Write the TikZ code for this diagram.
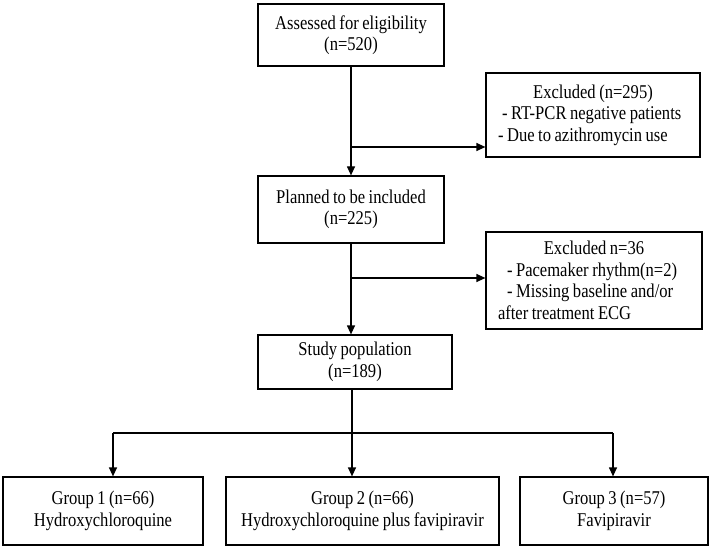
\documentclass[tikz,border=0pt]{standalone}
\usepackage{fontspec}
\setmainfont[FakeStretch=0.85,WordSpace=0.85]{Liberation Serif}
\usetikzlibrary{arrows.meta}

\begin{document}
\begin{tikzpicture}[x=1pt,y=-1pt]
\tikzstyle{block}=[rectangle,draw,line width=1.2pt,inner sep=0pt,align=center,font=\fontsize{19.5}{21.5}\selectfont\setlength{\parindent}{0pt}]
\tikzstyle{side}=[block,align=left,inner xsep=12pt,execute at begin node={\setlength{\spaceskip}{0pt}\setlength{\xspaceskip}{0pt}}]
\tikzstyle{wire}=[line width=1.2pt]
\tikzstyle{arr}=[wire,-{Triangle[length=9pt,width=8pt]}]
\useasboundingbox (0,0) rectangle (712,553);
% main column
\node[block,minimum width=186pt,minimum height=62pt] (assess) at (351,35) {Assessed for eligibility\\(n=520)};
\node[block,minimum width=186pt,minimum height=67pt] (plan) at (351,209.5) {Planned to be included\\(n=225)};
\node[block,minimum width=194pt,minimum height=54pt] (study) at (355,362) {Study population\\(n=189)};
% exclusions
\node[side,text width=190pt,minimum height=84pt] (excl1) at (593,115) {\null\hfill Excluded (n=295)\hfill\null\\
  \hspace*{4pt}- RT-PCR negative patients\\
  - Due to azithromycin use};
\node[side,text width=192pt,minimum height=97pt] (excl2) at (594,280.5) {\null\hfill Excluded n=36\hfill\null\\
  \hspace*{9pt}- Pacemaker rhythm(n=2)\\
  \hspace*{9pt}- Missing baseline and/or\\
  after treatment ECG};
% groups
\node[block,minimum width=200pt,minimum height=68pt] (g1) at (103,511) {Group 1 (n=66)\\Hydroxychloroquine};
\node[block,minimum width=273pt,minimum height=68pt] (g2) at (362.5,511) {Group 2 (n=66)\\Hydroxychloroquine plus favipiravir};
\node[block,minimum width=188pt,minimum height=68pt] (g3) at (614,511) {Group 3 (n=57)\\Favipiravir};
% connectors
\coordinate (b1) at (351,147);
\coordinate (b2) at (351,278);
\coordinate (split) at (352,433);
\coordinate (gl) at (113,433);
\coordinate (gr) at (613,433);
\draw[arr] (assess) -- (plan);
\draw[arr] (b1) -- (b1 -| excl1.west);
\draw[arr] (plan) -- (plan |- study.north);
\draw[arr] (b2) -- (b2 -| excl2.west);
\draw[wire] (study.south -| split) -- (split);
\draw[wire] (gl) -- (gr);
\draw[arr] (gl) -- (gl |- g1.north);
\draw[arr] (split) -- (split |- g2.north);
\draw[arr] (gr) -- (gr |- g3.north);
\end{tikzpicture}
\end{document}
